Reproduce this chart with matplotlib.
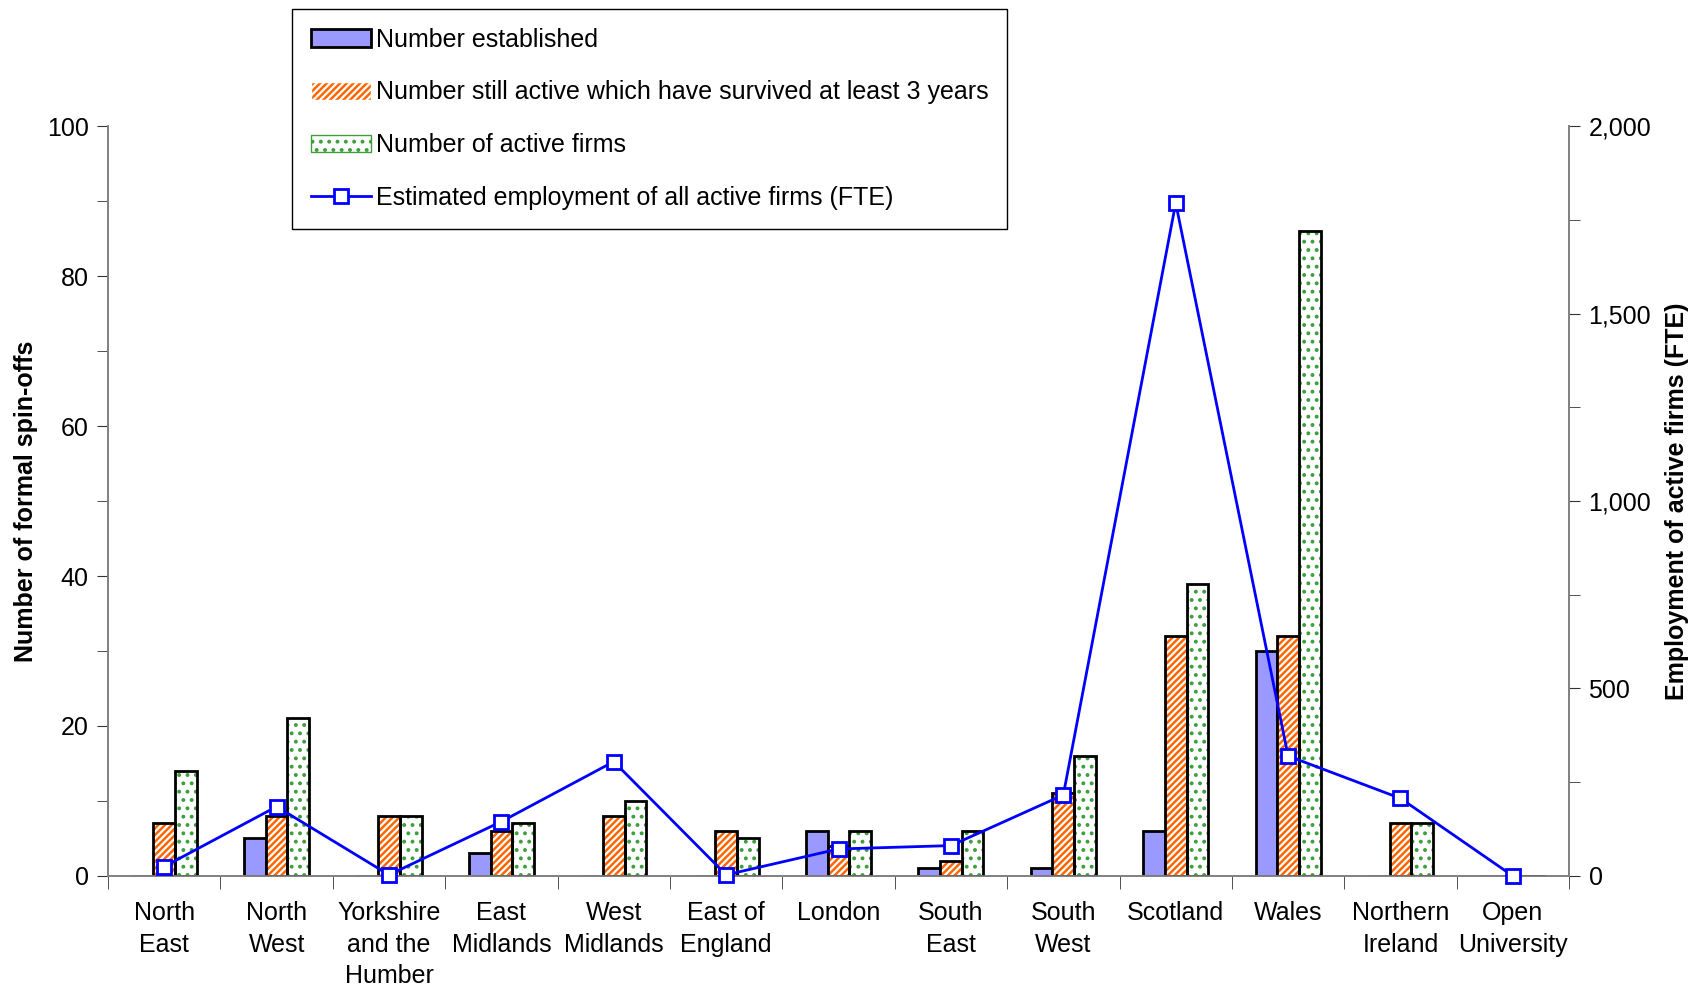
import matplotlib.pyplot as plt
import numpy as np
from matplotlib.lines import Line2D
from matplotlib.patches import Patch

plt.rcParams['font.family'] = ['Liberation Sans', 'DejaVu Sans']
plt.rcParams['hatch.linewidth'] = 1.6

# Data
regions = ["North\nEast", "North\nWest", "Yorkshire\nand the\nHumber", "East\nMidlands",
           "West\nMidlands", "East of\nEngland", "London", "South\nEast", "South\nWest",
           "Scotland", "Wales", "Northern\nIreland", "Open\nUniversity"]
established = [0, 5, 0, 3, 0, 0, 6, 1, 1, 6, 30, 0, 0]
survived = [7, 8, 8, 6, 8, 6, 4, 2, 11, 32, 32, 7, 0]
active = [14, 21, 8, 7, 10, 5, 6, 6, 16, 39, 86, 7, 0]
employment = [25, 185, 3, 145, 305, 3, 72, 81, 216, 1795, 320, 207, 0]

labels = ["Number established",
          "Number still active which have survived at least 3 years",
          "Number of active firms",
          "Estimated employment of all active firms (FTE)"]

FS = 18

fig = plt.figure(figsize=(16.93, 9.85), dpi=100)
ax = fig.add_axes([0.0638, 0.1107, 0.8630, 0.7613])
ax2 = ax.twinx()

x = np.arange(len(regions))
w = 0.193

# established
ax.bar(x - w, established, w, color='#9999FF', edgecolor='black', linewidth=2, zorder=2)
# survived: orange with white stripes
ax.bar(x, survived, w, color='#FF6600', edgecolor='white', hatch='/////', linewidth=0, zorder=2)
ax.bar(x, survived, w, color='none', edgecolor='black', linewidth=2, zorder=3)
# active: white with green dots
ax.bar(x + w, active, w, color='white', edgecolor='#3CA03C', hatch='..', linewidth=0, zorder=2)
ax.bar(x + w, active, w, color='none', edgecolor='black', linewidth=2, zorder=3)

ax2.plot(x, employment, color='#0000FF', lw=2, marker='s', ms=10, mfc='white',
         mec='#0000FF', mew=2, zorder=5, clip_on=False)

ax.set_xlim(-0.5, len(regions) - 0.5)
ax.set_ylim(0, 100)
ax2.set_ylim(0, 2000)

ax.set_yticks(range(0, 101, 20))
ax.set_yticks(range(0, 101, 10), minor=True)
ax2.set_yticks(range(0, 2001, 500))
ax2.set_yticks(range(0, 2001, 250), minor=True)
ax2.set_yticklabels([f"{v:,}" for v in range(0, 2001, 500)])

ax.set_xticks(x)
ax.set_xticklabels(regions, fontsize=FS, linespacing=1.4)
ax.tick_params(axis='x', length=0, pad=18)
ax.set_xticks(np.arange(-0.5, len(regions), 1), minor=True)
ax.tick_params(axis='x', which='minor', length=9, direction='out', color='#333333')

for a in (ax, ax2):
    a.tick_params(axis='y', which='both', labelsize=FS, length=8, color='#333333', direction='out')
    a.tick_params(axis='y', which='major', pad=6)
    for s in a.spines.values():
        s.set_color('#808080')
        s.set_linewidth(1.2)
    a.spines['top'].set_visible(False)

ax.set_zorder(ax2.get_zorder() - 1)
ax2.patch.set_visible(False)

ax.set_ylabel("Number of formal spin-offs", fontsize=FS, fontweight='bold', labelpad=6)
ax2.set_ylabel("Employment of active firms (FTE)", fontsize=FS, fontweight='bold', labelpad=10)

handles = [
    Patch(facecolor='#9999FF', edgecolor='black', linewidth=2),
    Patch(facecolor='#FF6600', edgecolor='white', hatch='/////'),
    Patch(facecolor='white', edgecolor='#3CA03C', hatch='..'),
    Line2D([], [], color='#0000FF', lw=2, marker='s', ms=10, mfc='white', mec='#0000FF', mew=2),
]
leg = fig.legend(handles, labels, loc='upper left', bbox_to_anchor=(292 / 1693, 1 - 9 / 985),
                 fontsize=FS, frameon=True, fancybox=False, edgecolor='black', framealpha=1,
                 labelspacing=1.15, handlelength=2.4, handletextpad=0.2, borderpad=0.75,
                 borderaxespad=0)
leg.get_frame().set_linewidth(1.0)
leg.set_zorder(10)

fig.savefig('out.png', dpi=100)
